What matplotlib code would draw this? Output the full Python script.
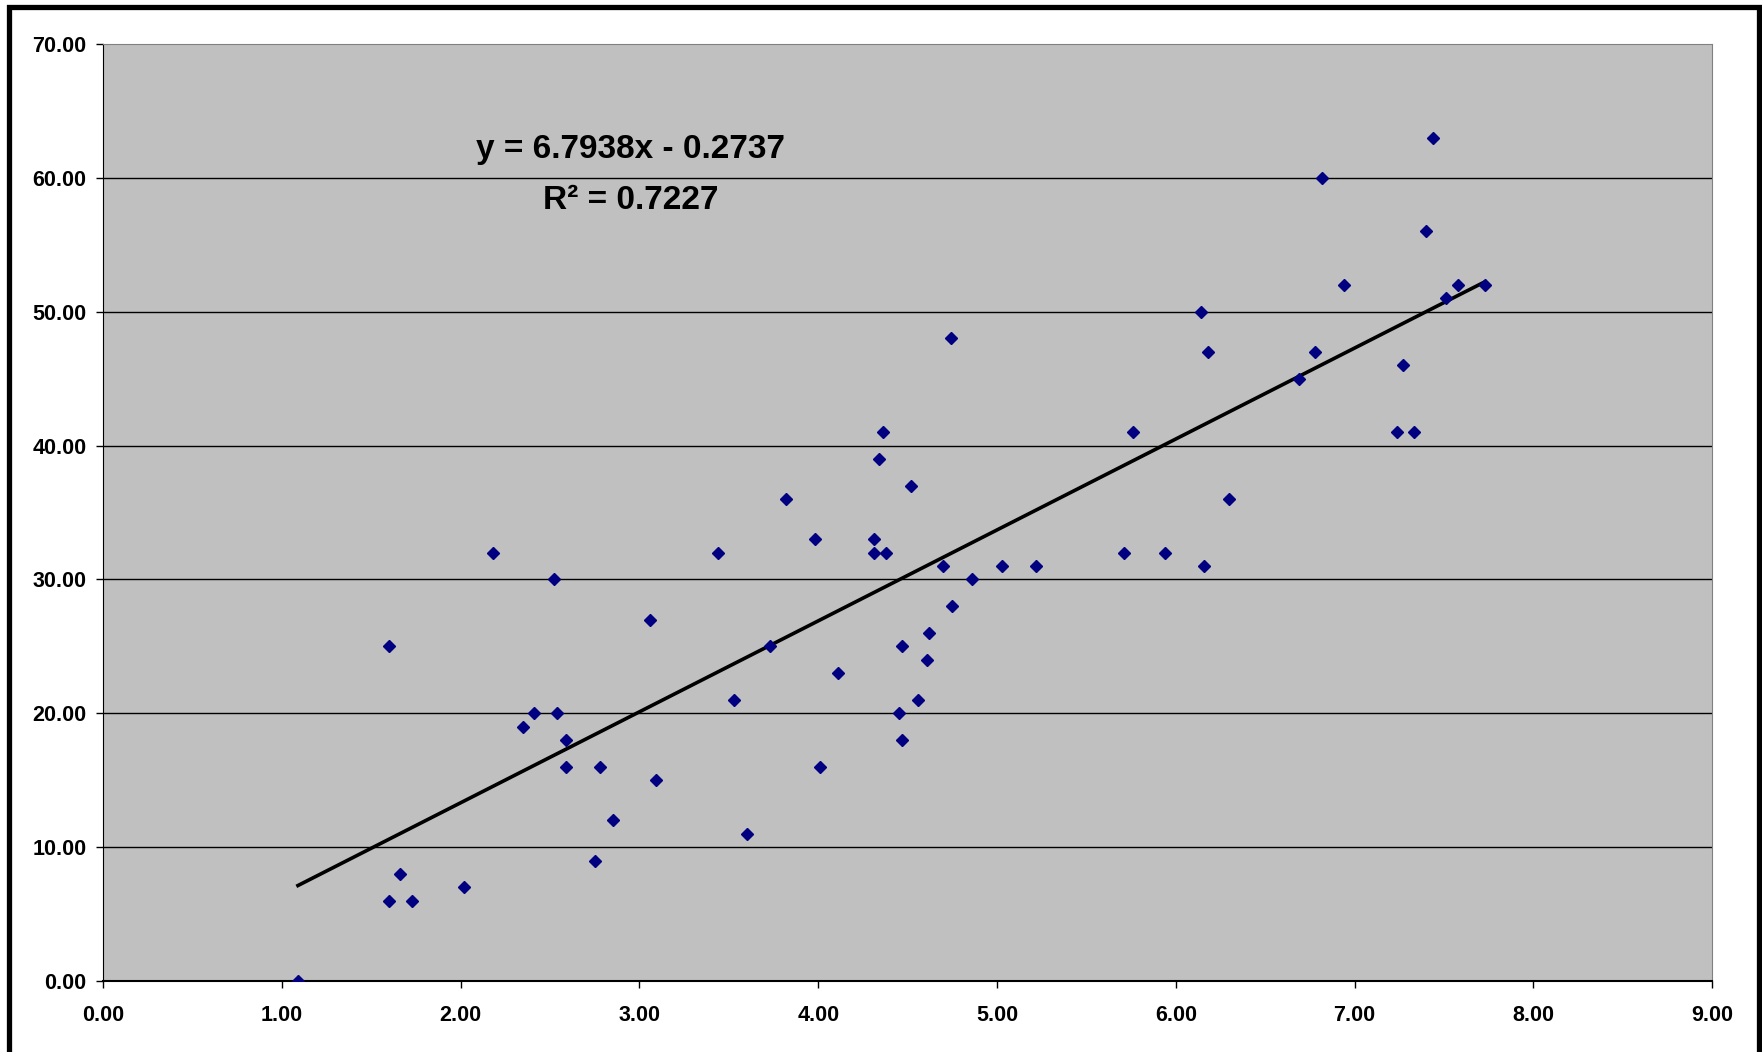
import numpy as np
import matplotlib.pyplot as plt
from matplotlib.patches import Rectangle

# scatter values
x_vals = [1.09, 1.60, 1.60, 1.66, 1.73, 2.02, 2.18, 2.35, 2.41, 2.52,
          2.54, 2.59, 2.59, 2.75, 2.78, 2.85, 3.06, 3.09, 3.44, 3.53,
          3.60, 3.73, 3.82, 3.98, 4.01, 4.11, 4.31, 4.31, 4.38, 4.34,
          4.36, 4.45, 4.47, 4.47, 4.52, 4.56, 4.61, 4.62, 4.70, 4.74,
          4.75, 4.86, 5.03, 5.22, 5.71, 5.76, 5.94, 6.14, 6.16, 6.18,
          6.30, 6.69, 6.78, 6.82, 6.94, 7.24, 7.27, 7.33, 7.40, 7.44,
          7.51, 7.58, 7.73]
y_vals = [0, 25, 6, 8, 6, 7, 32, 19, 20, 30,
          20, 18, 16, 9, 16, 12, 27, 15, 32, 21,
          11, 25, 36, 33, 16, 23, 33, 32, 32, 39,
          41, 20, 25, 18, 37, 21, 24, 26, 31, 48,
          28, 30, 31, 31, 32, 41, 32, 50, 31, 47,
          36, 45, 47, 60, 52, 41, 46, 41, 56, 63,
          51, 52, 52]

# trendline as printed on the chart
slope = 6.7938
intercept = -0.2737
r_squared = 0.7227

x_ticks = np.arange(0, 10, 1)
y_ticks = np.arange(0, 80, 10)

plt.rcParams['font.family'] = ['Liberation Sans', 'DejaVu Sans']

fig = plt.figure(figsize=(17.62, 10.52), dpi=100)
ax = fig.add_axes([0.0585, 0.0675, 0.9132, 0.8907])
ax.set_facecolor('#C0C0C0')

# horizontal gridlines
for yv in y_ticks[1:-1]:
    ax.axhline(yv, color='black', lw=1.0, zorder=1)

ax.plot(x_vals, y_vals, linestyle='none', marker='D', markersize=6.2,
        color='#000080', markeredgecolor='#000080', zorder=3)

# linear trendline across the data range
xt = np.array([min(x_vals), max(x_vals)])
ax.plot(xt, slope * xt + intercept, color='black', lw=2.6, zorder=2)

ax.text(2.95, 62.1, f'y = {slope}x - {abs(intercept)}', ha='center', va='center',
        fontsize=24, fontweight='bold', zorder=4)
ax.text(2.95, 58.3, f'R\u00b2 = {r_squared}', ha='center', va='center',
        fontsize=24, fontweight='bold', zorder=4)

ax.set_xlim(0, 9)
ax.set_ylim(0, 70)
ax.set_xticks(x_ticks)
ax.set_yticks(y_ticks)
ax.set_xticklabels([f'{v:.2f}' for v in x_ticks])
ax.set_yticklabels([f'{v:.2f}' for v in y_ticks])
ax.tick_params(axis='both', direction='out', length=5, width=1, color='black',
               labelsize=15.5)
ax.tick_params(axis='x', pad=12)
ax.tick_params(axis='y', pad=7)
for lbl in ax.get_xticklabels() + ax.get_yticklabels():
    lbl.set_fontweight('bold')

ax.spines['left'].set_color('black')
ax.spines['bottom'].set_color('black')
ax.spines['bottom'].set_linewidth(1.5)
ax.spines['top'].set_color('#808080')
ax.spines['right'].set_color('#808080')

# thick outer chart border (bottom edge runs off the image)
fig.patches.append(Rectangle((8.5 / 1762, -0.05), (1758.5 - 8.5) / 1762, 1.05 - 7 / 1052,
                             transform=fig.transFigure, fill=False,
                             edgecolor='black', lw=3.8))

fig.savefig('out.png', dpi=100, facecolor='white')
